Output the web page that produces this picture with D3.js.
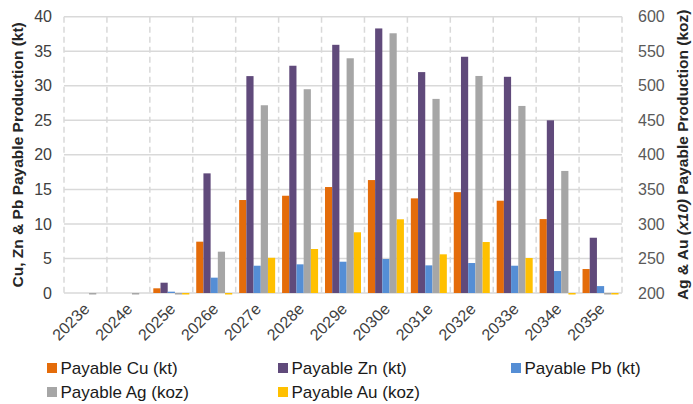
<!DOCTYPE html>
<html>
<head>
<meta charset="utf-8">
<script src="https://cdn.jsdelivr.net/npm/d3@7"></script>
<style>
  html, body { margin: 0; padding: 0; background: #ffffff; }
  svg { display: block; font-family: "Liberation Sans", Arial, sans-serif; }
</style>
</head>
<body>
<svg id="chart" width="693" height="404"></svg>
<script>
// Production schedule by year
const years = ["2023e", "2024e", "2025e", "2026e", "2027e", "2028e", "2029e",
               "2030e", "2031e", "2032e", "2033e", "2034e", "2035e"];

// Left axis series (kt)
const cuKt = [0, 0, 0.68, 7.43, 13.46, 14.08, 15.34, 16.35, 13.7, 14.6, 13.36, 10.7, 3.47];
const znKt = [0, 0, 1.49, 17.32, 31.4, 32.9, 35.93, 38.3, 31.98, 34.2, 31.3, 25.0, 8.0];
const pbKt = [0, 0, 0.19, 2.22, 3.95, 4.15, 4.53, 4.92, 4.0, 4.34, 3.95, 3.18, 1.0];

// Right axis series (koz; Au shown x10)
const agKoz = [0, 0, 0, 259.8, 471.8, 495, 539.8, 576, 481, 514.2, 470.8, 376.7, 0];
const auKoz = [null, null, 0, 0, 251, 263.7, 287.9, 306.7, 256, 273.8, 250.7, 0, 0];

const leftTicks = [0, 5, 10, 15, 20, 25, 30, 35, 40];
const rightTicks = [200, 250, 300, 350, 400, 450, 500, 550, 600];

const seriesNames = ["Payable Cu (kt)", "Payable Zn (kt)", "Payable Pb (kt)", "Payable Ag (koz)", "Payable Au (koz)"];
const seriesColors = ["#E46C0A", "#604A7B", "#558ED5", "#A6A6A6", "#FFC000"];
const seriesAxis = ["L", "L", "L", "R", "R"];
const seriesValues = [cuKt, znKt, pbKt, agKoz, auKoz];

const svg = d3.select("#chart");
const plot = { left: 64, right: 622, top: 16.7, bottom: 293 };

const x0 = d3.scaleBand().domain(years).range([plot.left, plot.right]).paddingInner(0).paddingOuter(0);
const x1 = d3.scaleBand().domain(d3.range(5)).range([0, x0.bandwidth()]).paddingInner(0).paddingOuter(0.48);
const yL = d3.scaleLinear().domain([0, 40]).range([plot.bottom, plot.top]);
const yR = d3.scaleLinear().domain([200, 600]).range([plot.bottom, plot.top]);

// Horizontal gridlines
svg.append("g").selectAll("line").data(leftTicks).join("line")
  .attr("x1", plot.left).attr("x2", plot.right)
  .attr("y1", d => yL(d)).attr("y2", d => yL(d))
  .attr("stroke", "#D9D9D9").attr("stroke-width", 1.5);

// Vertical dashed separators between years
const bounds = years.map(y => x0(y)).concat([plot.right]);
svg.append("g").selectAll("line").data(bounds).join("line")
  .attr("x1", d => d).attr("x2", d => d)
  .attr("y1", plot.top).attr("y2", plot.bottom + 3)
  .attr("stroke", "#D9D9D9").attr("stroke-width", 1.5)
  .attr("stroke-dasharray", "6,4");

// Bars
const barData = [];
years.forEach((yr, i) => {
  seriesValues.forEach((vals, s) => {
    const v = vals[i];
    if (v === null) return;
    barData.push({ yr, s, v });
  });
});

svg.append("g").selectAll("rect").data(barData).join("rect")
  .attr("x", d => x0(d.yr) + x1(d.s))
  .attr("width", x1.bandwidth())
  .attr("y", d => {
    const sc = seriesAxis[d.s] === "L" ? yL : yR;
    const base = sc.domain()[0];
    return d.v < base ? sc(base) : sc(d.v);
  })
  .attr("height", d => {
    const sc = seriesAxis[d.s] === "L" ? yL : yR;
    const base = sc.domain()[0];
    // values under the axis minimum are clipped to a thin stub at the baseline
    return d.v < base ? 1.5 : sc(base) - sc(d.v);
  })
  .attr("fill", d => seriesColors[d.s]);

// Left axis
const leftAxis = svg.append("g")
  .attr("transform", `translate(${plot.left},0)`)
  .call(d3.axisLeft(yL).tickValues(leftTicks).tickSize(0).tickPadding(12));
leftAxis.select(".domain").remove();
leftAxis.selectAll("text").attr("font-size", 16).attr("fill", "#404040")
  .attr("font-family", "Liberation Sans, Arial, sans-serif");

// Right axis
const rightAxis = svg.append("g")
  .attr("transform", `translate(${plot.right},0)`)
  .call(d3.axisRight(yR).tickValues(rightTicks).tickSize(0).tickPadding(16));
rightAxis.select(".domain").remove();
rightAxis.selectAll("text").attr("font-size", 16).attr("fill", "#595959")
  .attr("font-family", "Liberation Sans, Arial, sans-serif");

// Category labels
const xAxis = svg.append("g")
  .attr("transform", `translate(0,${plot.bottom})`)
  .call(d3.axisBottom(x0).tickSize(0).tickPadding(0));
xAxis.select(".domain").remove();
xAxis.selectAll("text")
  .attr("font-size", 16).attr("fill", "#404040")
  .attr("font-family", "Liberation Sans, Arial, sans-serif")
  .attr("text-anchor", "end")
  .attr("dy", null)
  .attr("y", null)
  .attr("transform", "translate(5,17) rotate(-45)");

// Axis titles
svg.append("text")
  .attr("transform", `translate(23,${(plot.top + plot.bottom) / 2}) rotate(-90)`)
  .attr("text-anchor", "middle")
  .attr("font-size", 15.5).attr("font-weight", "bold").attr("fill", "#262626")
  .text("Cu, Zn & Pb Payable Production (kt)");

const rTitle = svg.append("text")
  .attr("transform", `translate(688,${(plot.top + plot.bottom) / 2}) rotate(-90)`)
  .attr("text-anchor", "middle")
  .attr("font-size", 15.5).attr("font-weight", "bold").attr("fill", "#262626");
rTitle.append("tspan").text("Ag & Au ");
rTitle.append("tspan").attr("font-style", "italic").text("(x10)");
rTitle.append("tspan").text(" Payable Production (koz)");

// Legend
const legendPos = [[47, 368], [278, 368], [511, 368], [47, 392], [278, 392]];
const legend = svg.append("g").selectAll("g").data(seriesNames).join("g")
  .attr("transform", (d, i) => `translate(${legendPos[i][0]},${legendPos[i][1]})`);
legend.append("rect").attr("x", 0).attr("y", -5).attr("width", 10).attr("height", 10)
  .attr("fill", (d, i) => seriesColors[i]);
legend.append("text").attr("x", 13.5).attr("y", 0).attr("dy", "0.35em")
  .attr("font-size", 17).attr("fill", "#1a1a1a").text(d => d);
</script>
</body>
</html>
